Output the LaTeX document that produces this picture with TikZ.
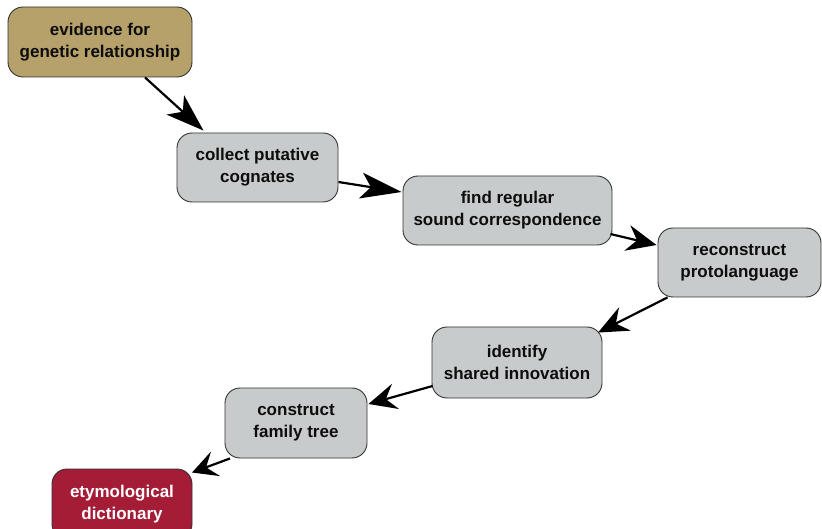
\documentclass[tikz,border=0pt]{standalone}
\usepackage{fontspec}
\setmainfont{Liberation Sans}
\usetikzlibrary{arrows.meta}
\definecolor{tanfill}{RGB}{182,161,107}
\definecolor{grayfill}{RGB}{200,203,203}
\definecolor{redfill}{RGB}{164,28,54}
\definecolor{edgegray}{RGB}{50,50,50}
\tikzset{
  stepbox/.style={draw=edgegray, line width=0.9pt, rounded corners=15pt, fill=grayfill,
    minimum height=69pt, align=center, inner sep=0pt,
    font=\fontsize{17}{22}\selectfont\bfseries, text=black!95},
  startbox/.style={stepbox, fill=tanfill},
  endbox/.style={stepbox, fill=redfill, text=white},
  flow/.style={line width=2.2pt, -{Stealth[length=#1, width=26pt, inset=10pt]}},
  flow/.default=30pt,
}
\begin{document}
\begin{tikzpicture}[x=1pt,y=-1pt]
\useasboundingbox (0,0) rectangle (822,529);
\node[startbox, minimum width=184pt, minimum height=70pt] (ev) at (100,42) {evidence for\\genetic relationship};
\node[stepbox, minimum width=161pt] (co) at (257.5,167.5) {collect putative\\cognates};
\node[stepbox, minimum width=209pt] (fi) at (507.5,210.5) {find regular\\sound correspondence};
\node[stepbox, minimum width=163pt] (re) at (739.5,262.5) {reconstruct\\protolanguage};
\node[stepbox, minimum width=170pt, minimum height=71pt] (id) at (517,362.5) {identify\\shared innovation};
\node[stepbox, minimum width=142pt, minimum height=70pt] (cf) at (296,423) {construct\\family tree};
\node[endbox, minimum width=140pt, minimum height=70pt] (et) at (122,504) {etymological\\dictionary};
\draw[flow=38pt] ([xshift=45pt]ev.south) -- ([xshift=-54pt,yshift=2pt]co.north);
\draw[flow=41pt] ([yshift=-14.5pt]co.east) -- ([xshift=-1pt,yshift=18.5pt]fi.west);
\draw[flow=30pt] ([xshift=-2pt,yshift=-23.5pt]fi.east) -- ([xshift=-1pt,yshift=17.5pt]re.west);
\draw[flow=30pt] ([xshift=-72pt]re.south) -- ([xshift=81pt,yshift=-6pt]id.north);
\draw[flow=28pt] ([xshift=1pt,yshift=-23.5pt]id.west) -- ([xshift=1pt,yshift=19pt]cf.east);
\draw[flow=25pt] ([xshift=-66pt]cf.south) -- ([xshift=70pt,yshift=-4pt]et.north);
\end{tikzpicture}
\end{document}
